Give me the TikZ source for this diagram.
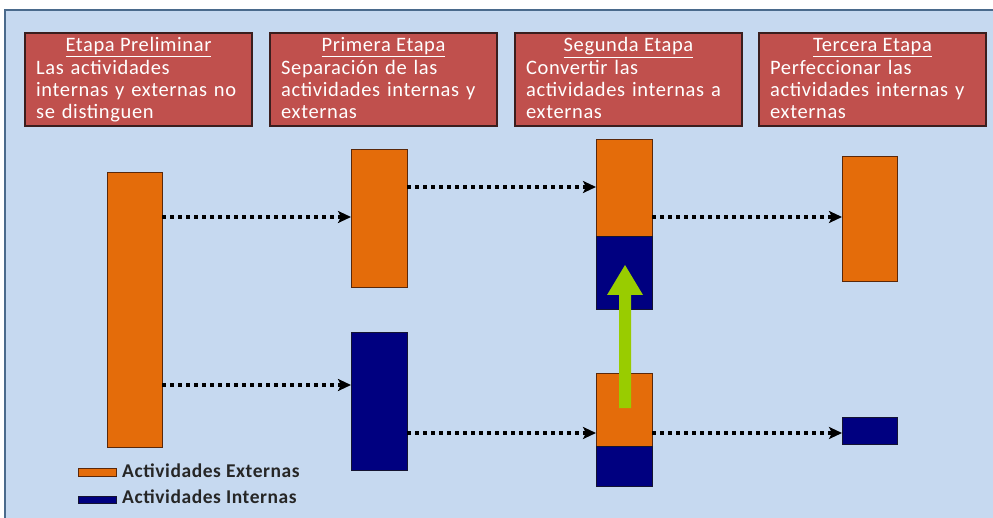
\documentclass[tikz,border=0pt]{standalone}
\usepackage{fontspec}
\setmainfont{Carlito}
\newfontfamily\hdrfont[LetterSpace=3]{Carlito}
\newfontfamily\legfont[LetterSpace=3,BoldFont={Carlito Bold}]{Carlito}
\usetikzlibrary{arrows.meta,calc}
\definecolor{bgblue}{RGB}{198,217,240}
\definecolor{framec}{RGB}{74,106,140}
\definecolor{redbox}{RGB}{192,80,77}
\definecolor{redline}{RGB}{58,30,30}
\definecolor{orng}{RGB}{228,108,10}
\definecolor{orngline}{RGB}{90,40,10}
\definecolor{navy}{RGB}{0,0,128}
\definecolor{navyline}{RGB}{20,20,50}
\definecolor{grn}{RGB}{153,204,0}
\tikzset{
  hdr/.style={draw=redline, line width=1.3pt, fill=redbox, inner sep=0pt, outer sep=0pt,
    minimum width=227pt, minimum height=93pt, anchor=north west},
  hdrtitle/.style={text=white, inner sep=0pt, anchor=base, font=\hdrfont\fontsize{20.5}{22}\selectfont},
  hdrbody/.style={text=white, inner sep=0pt, anchor=base west, align=left, text width=216pt,
    font=\hdrfont\fontsize{20.5}{22}\selectfont},
  obar/.style={draw=orngline, line width=0.8pt, fill=orng, inner sep=0pt, outer sep=0pt, anchor=north west},
  nbar/.style={draw=navyline, line width=0.8pt, fill=navy, inner sep=0pt, outer sep=0pt, anchor=north west},
  dotarrow/.style={line width=3.6pt, dash pattern=on 4pt off 4pt, black,
    -{Stealth[length=13pt,width=12pt,inset=3pt]}},
  legtext/.style={inner sep=0pt, anchor=base west, text=black!85, font=\legfont\bfseries\fontsize{19.5}{22}\selectfont}
}
\begin{document}
\begin{tikzpicture}[x=1pt,y=-1pt]
\useasboundingbox (0,0) rectangle (993,518);
\fill[white] (0,0) rectangle (993,518);
\fill[bgblue] (5,10) rectangle (995,520);
\draw[framec, line width=2pt] (5,520) -- (5,10) -- (995,10);

% header boxes
\node[hdr] (h1) at (25,33) {};
\node[hdr] (h2) at (270,33) {};
\node[hdr] (h3) at (515,33) {};
\node[hdr] (h4) at (759,33) {};
\foreach \n/\t/\b in {h1/Etapa Preliminar/{Las actividades\\internas y externas no\\se distinguen},
                      h2/Primera Etapa/{Separación de las\\actividades internas y\\externas},
                      h3/Segunda Etapa/{Convertir las\\actividades internas a\\externas},
                      h4/Tercera Etapa/{Perfeccionar las\\actividades internas y\\externas}}{
  \node[hdrtitle] (\n t) at ($(\n.north)+(0,19)$) {\underline{\t}};
  \node[hdrbody] (\n b) at ($(\n.north west)+(11,42)$) {\b};
}

% bars
\node[obar, minimum width=55pt, minimum height=275pt] (a) at (107,172) {};
\node[obar, minimum width=56pt, minimum height=138pt] (bo) at (351,149) {};
\node[nbar, minimum width=56pt, minimum height=138pt] (bn) at (351,332) {};
\node[obar, minimum width=56pt, minimum height=97pt] (cto) at (596,139) {};
\node[nbar, minimum width=56pt, minimum height=73pt] (ctn) at (596,236) {};
\node[obar, minimum width=56pt, minimum height=73pt] (cbo) at (596,373) {};
\node[nbar, minimum width=56pt, minimum height=40pt] (cbn) at (596,446) {};
\node[obar, minimum width=55pt, minimum height=125pt] (do) at (842,156) {};
\node[nbar, minimum width=55pt, minimum height=27pt] (dn) at (842,417) {};

% dotted arrows
\draw[dotarrow] (a.east |- 0,217) -- (bo.west |- 0,217);
\draw[dotarrow] (a.east |- 0,385) -- (bn.west |- 0,385);
\draw[dotarrow] (bo.east |- 0,187) -- (cto.west |- 0,187);
\draw[dotarrow] (cto.east |- 0,217) -- (do.west |- 0,217);
\draw[dotarrow] (bn.east |- 0,433) -- (cbo.west |- 0,433);
\draw[dotarrow] (cbo.east |- 0,433) -- (dn.west |- 0,433);

% green arrow
\fill[grn] (619,408) -- (631,408) -- (631,295) -- (643,295) -- (625,265) -- (607,295) -- (619,295) -- cycle;

% legend
\node[obar, minimum width=38pt, minimum height=8pt] (lo) at (78,468) {};
\node[nbar, minimum width=38pt, minimum height=7pt] (ln) at (78,496) {};
\node[legtext] (lot) at (122,477) {Actividades Externas};
\node[legtext] (lnt) at (122,503) {Actividades Internas};
\end{tikzpicture}
\end{document}
